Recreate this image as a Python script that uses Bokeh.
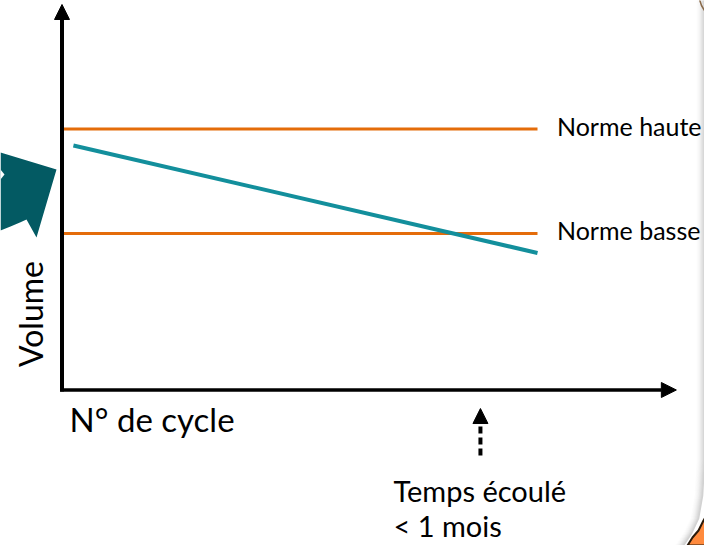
import numpy as np
from bokeh.plotting import figure
from bokeh.models import Arrow, NormalHead, Range1d
from bokeh.core.properties import value
from bokeh.embed import file_html
from bokeh.resources import INLINE

# ---- data (schematic) ----
cycles = [2.4, 100]            # N° de cycle at both ends of the volume line
volume = [93.7, 52.5]          # Volume
norm_names = ["Norme haute", "Norme basse"]
norm_levels = [100, 60]
norm_span = [0, 100]
event_cycle = 88               # "Temps écoulé < 1 mois"
x_label = "N° de cycle"
y_label = "Volume"
event_lines = ["Temps écoulé", "< 1 mois"]

# view extents (data units)
X_MIN, X_MAX = -12.934, 135.12
Y_MIN, Y_MAX = -59.58, 149.23
X_TIP = 129.2
Y_TIP = 147.7

W, H = 704, 545
FONT = "Lato"
BASE_FIX = 0.4   # alphabetic-baseline correction, in em

p = figure(width=W, height=H, output_backend="svg", toolbar_location=None,
           x_range=Range1d(X_MIN, X_MAX), y_range=Range1d(Y_MIN, Y_MAX),
           min_border=0, background_fill_color="white", border_fill_color="white")
p.axis.visible = False
p.grid.visible = False
p.outline_line_color = None

# decoration helpers (pixel -> data), only for background ornaments
def dx(px):
    return X_MIN + px / W * (X_MAX - X_MIN)

def dy(py):
    return Y_MAX - py / H * (Y_MAX - Y_MIN)

# right-edge soft shadow (ornament)
edge_x = [707, 707, 705, 701, 694, 684]
edge_y = [-5, 460, 495, 518, 533, 548]
shades = ["#d2d2d2", "#dadada", "#e2e2e2", "#e9e9e9", "#f0f0f0", "#f5f5f5", "#f9f9f9", "#fcfcfc"]
for k in range(len(shades) - 1, -1, -1):
    p.line([dx(v - 3 - k) for v in edge_x], [dy(v) for v in edge_y], color=shades[k], line_width=1.6)
p.line([dx(v) for v in [699, 701, 704]], [dy(v) for v in [-1, 5, 10]], color="#8a6a4a", line_width=1.5)

# dark teal block arrow on the left (ornament)
orn_x = [0, 56, 36, 26, 20, 10, 0]
orn_y = [152, 169, 237, 219, 221.7, 226, 230]
p.patch([dx(v) for v in orn_x], [dy(v) for v in orn_y], color="#035A63", line_width=0)
p.patch([dx(v) for v in [0, 4, 0]], [dy(v) for v in [169, 174, 179]], color="white", line_width=0)

# bottom-right orange ornament
br_x = [708, 703, 698, 692, 687, 708]
br_y = [512, 520, 530, 537, 545, 545]
p.patch([dx(v) for v in br_x], [dy(v) for v in br_y], fill_color="#FF8A3D",
        line_color="#2b1a0a", line_width=2)

# norm lines
orange = "#E46C0A"
for lvl in norm_levels:
    p.line(norm_span, [lvl, lvl], color=orange, line_width=3)

# volume line
p.line(cycles, volume, color="#138F9C", line_width=4)

# axes arrows
head = dict(size=15, fill_color="black", line_color="black", line_width=1)
p.add_layout(Arrow(x_start=0, y_start=-0.6, x_end=0, y_end=Y_TIP, line_width=4,
                   line_color="black", end=NormalHead(**head)))
p.add_layout(Arrow(x_start=-0.4, y_start=0, x_end=X_TIP, y_end=0, line_width=3.5,
                   line_color="black", end=NormalHead(**head)))

# event dashed arrow
p.add_layout(Arrow(x_start=event_cycle, y_start=-25.1, x_end=event_cycle, y_end=-7.1,
                   line_width=4, line_color="black", line_dash="7 4",
                   end=NormalHead(**head)))

txt = dict(text_font=value(FONT), text_color="black", text_baseline="alphabetic")

# axis labels
fs = 32
p.text(x=[-3.9], y=[29.1], text=[y_label], angle=np.pi / 2, text_align="center",
       x_offset=-BASE_FIX * fs, text_font_size=f"{fs}px", **txt)
fs = 33
p.text(x=[1.6], y=[-16.3], text=[x_label], text_align="left",
       y_offset=-BASE_FIX * fs, text_font_size=f"{fs}px", **txt)

# norm labels
fs = 25
p.text(x=[104.1] * len(norm_names), y=norm_levels, text=norm_names, text_align="left",
       y_offset=7 - BASE_FIX * fs, text_font_size=f"{fs}px", **txt)

# event labels
fs = 29
p.text(x=[event_cycle] * 2, y=[-43.1, -56.5], text=event_lines, text_align="left",
       x_offset=-87, y_offset=-BASE_FIX * fs, text_font_size=f"{fs}px", **txt)

open("out.html", "w").write(file_html(p, INLINE))
